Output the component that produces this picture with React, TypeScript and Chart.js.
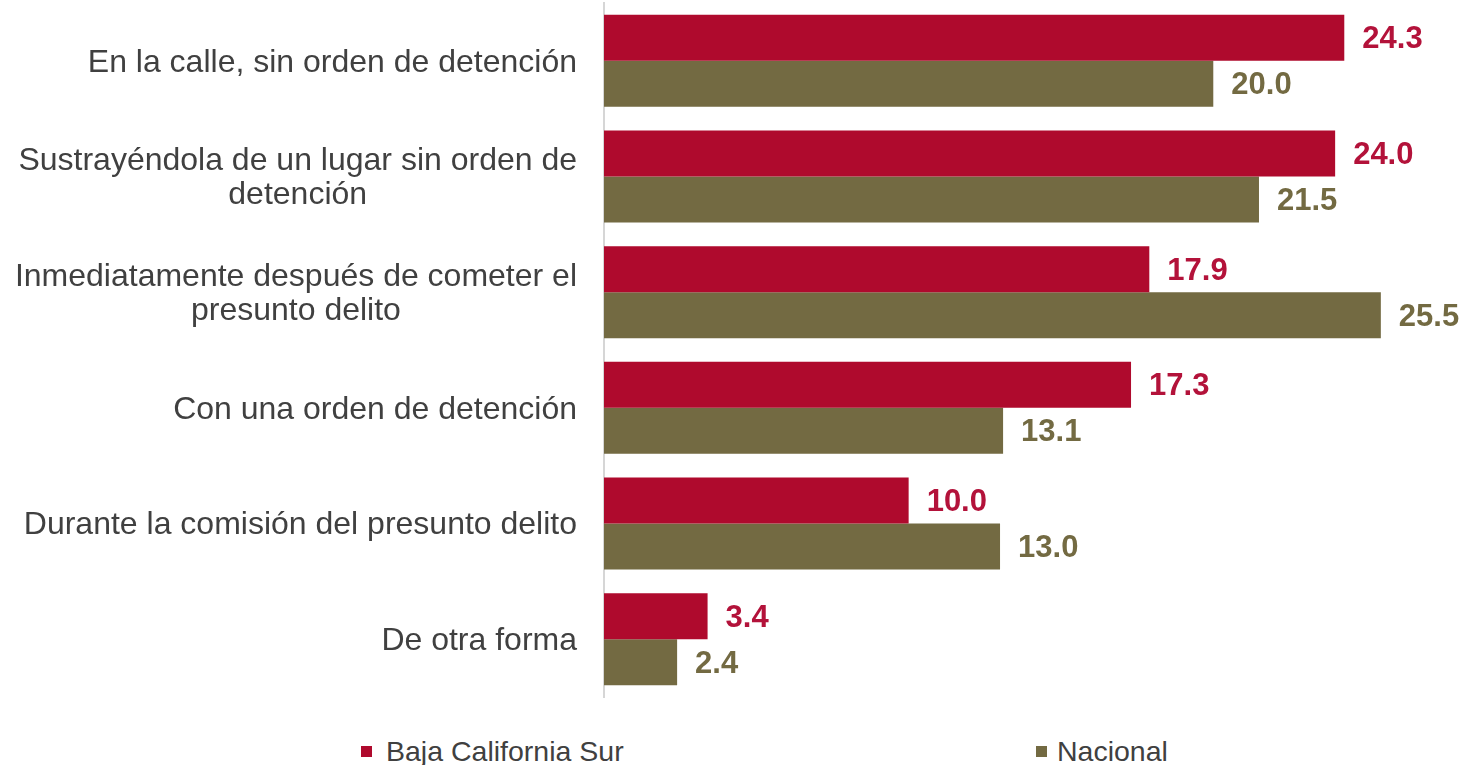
import React, { useEffect, useRef } from "react";
import { Chart, registerables } from "chart.js";

Chart.register(...registerables);

const categories: string[][] = [
  ["En la calle, sin orden de detención"],
  ["Sustrayéndola de un lugar sin orden de", "detención"],
  ["Inmediatamente después de cometer el", "presunto delito"],
  ["Con una orden de detención"],
  ["Durante la comisión del presunto delito"],
  ["De otra forma"],
];

const seriesNames = ["Baja California Sur", "Nacional"];
const bajaCaliforniaSur = [24.3, 24.0, 17.9, 17.3, 10.0, 3.4];
const nacional = [20.0, 21.5, 25.5, 13.1, 13.0, 2.4];

const RED = "#AF0A2D";
const RED_TEXT = "#B3123A";
const OLIVE = "#736A42";
const FONT = "'Liberation Sans', Arial, sans-serif";

const labelPlugin = {
  id: "customLabels",
  afterDraw(chart: any) {
    const ctx = chart.ctx;
    const yScale = chart.scales.y;
    ctx.save();
    // category labels
    ctx.font = `32px ${FONT}`;
    ctx.fillStyle = "#404040";
    ctx.textAlign = "center";
    ctx.textBaseline = "middle";
    const rightEdge = chart.chartArea.left - 27;
    categories.forEach((lines, i) => {
      const yc = yScale.getPixelForValue(i) + 2;
      const maxW = Math.max(...lines.map((l) => ctx.measureText(l).width));
      const cx = rightEdge - maxW / 2;
      const lh = 34;
      lines.forEach((line, j) => {
        ctx.fillText(line, cx, yc + (j - (lines.length - 1) / 2) * lh);
      });
    });
    // value labels
    ctx.font = `bold 31px ${FONT}`;
    ctx.textAlign = "left";
    chart.data.datasets.forEach((ds: any, di: number) => {
      const meta = chart.getDatasetMeta(di);
      ctx.fillStyle = di === 0 ? RED_TEXT : OLIVE;
      meta.data.forEach((bar: any, i: number) => {
        const v = ds.data[i];
        ctx.fillText(v.toFixed(1), bar.x + 18, bar.y + 2);
      });
    });
    ctx.restore();
  },
};

export default function App() {
  const ref = useRef<HTMLCanvasElement>(null);
  useEffect(() => {
    if (!ref.current) return;
    const chart = new Chart(ref.current, {
      type: "bar",
      data: {
        labels: categories.map((c) => c.join(" ")),
        datasets: [
          {
            label: seriesNames[0],
            data: bajaCaliforniaSur,
            backgroundColor: RED,
            categoryPercentage: 0.795,
            barPercentage: 1,
          },
          {
            label: seriesNames[1],
            data: nacional,
            backgroundColor: OLIVE,
            categoryPercentage: 0.795,
            barPercentage: 1,
          },
        ],
      },
      options: {
        indexAxis: "y",
        animation: false,
        responsive: false,
        layout: { padding: { left: 0, right: 6, top: 3, bottom: 3 } },
        plugins: {
          legend: { display: false },
          tooltip: { enabled: false },
        },
        scales: {
          x: { display: false, min: 0, max: 28 },
          y: {
            display: true,
            grid: { display: false },
            ticks: { display: false },
            border: { display: true, color: "#d6d6d6", width: 2 },
            afterFit(scale: any) {
              scale.width = 604;
            },
          },
        },
      },
      plugins: [labelPlugin],
    });
    return () => chart.destroy();
  }, []);

  const legendText: React.CSSProperties = {
    position: "absolute",
    fontFamily: FONT,
    fontSize: "28.5px",
    color: "#404040",
    lineHeight: "30px",
    top: 736,
    whiteSpace: "nowrap",
  };
  const square = (left: number, color: string): React.CSSProperties => ({
    position: "absolute",
    left,
    top: 746,
    width: 11,
    height: 11,
    background: color,
  });

  return (
    <div
      style={{
        position: "absolute",
        left: 0,
        top: 0,
        width: 1463,
        height: 765,
        background: "#fff",
        overflow: "hidden",
      }}
    >
      <canvas ref={ref} width={1463} height={700} style={{ display: "block" }} />
      <div style={square(361, RED)} />
      <div style={{ ...legendText, left: 386 }}>{seriesNames[0]}</div>
      <div style={square(1036, OLIVE)} />
      <div style={{ ...legendText, left: 1057 }}>{seriesNames[1]}</div>
    </div>
  );
}
